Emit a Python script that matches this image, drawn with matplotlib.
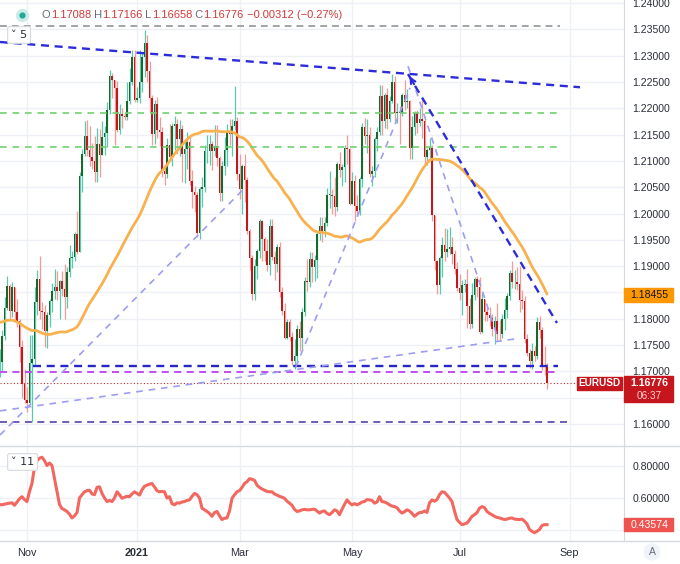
import numpy as np
import pandas as pd
import matplotlib
matplotlib.use("Agg")
import matplotlib.pyplot as plt
from matplotlib.lines import Line2D
from matplotlib.patches import Rectangle
from matplotlib.transforms import blended_transform_factory

plt.rcParams['font.family'] = ['Liberation Sans', 'DejaVu Sans']

# EURUSD daily closes before the visible window (only used for the 50-day SMA)
warmup_close = [1.1867, 1.1876, 1.1787, 1.1737, 1.1738, 1.1785, 1.1812, 1.1842, 1.1870, 1.1931,
                1.1837, 1.1859, 1.1796, 1.1793, 1.1833, 1.1830, 1.1823, 1.1903, 1.1937, 1.1913,
                1.1853, 1.1850, 1.1838, 1.1815, 1.1782, 1.1800, 1.1813, 1.1845, 1.1863, 1.1845,
                1.1815, 1.1848, 1.1837, 1.1773, 1.1705, 1.1656, 1.1670, 1.1632, 1.1665, 1.1745,
                1.1721, 1.1747, 1.1715, 1.1780, 1.1733, 1.1760, 1.1765, 1.1826, 1.1812, 1.1743,
                1.1747, 1.1706]

# visible window: 2020-10-16 .. 2021-08-19 (FX feed prints every weekday)
dates = pd.bdate_range("2020-10-16", "2021-08-19")

closes = [
    # Oct
    1.1718, 1.1768, 1.1820, 1.1863, 1.1815, 1.1860, 1.1812, 1.1795, 1.1746, 1.1676, 1.1646,
    # Nov
    1.1640, 1.1715, 1.1724, 1.1832, 1.1875, 1.1814, 1.1812, 1.1776, 1.1807, 1.1834, 1.1853,
    1.1861, 1.1852, 1.1871, 1.1857, 1.1842, 1.1888, 1.1915, 1.1918, 1.1962, 1.1927,
    # Dec
    1.2072, 1.2114, 1.2147, 1.2121, 1.2107, 1.2100, 1.2078, 1.2133, 1.2112, 1.2146, 1.2153,
    1.2196, 1.2261, 1.2254, 1.2238, 1.2158, 1.2189, 1.2186, 1.2184, 1.2214, 1.2250, 1.2298, 1.2216,
    # Jan
    1.2220, 1.2250, 1.2297, 1.2325, 1.2271, 1.2220, 1.2151, 1.2208, 1.2158, 1.2155, 1.2080,
    1.2076, 1.2131, 1.2108, 1.2166, 1.2171, 1.2142, 1.2161, 1.2114, 1.2122, 1.2136,
    # Feb
    1.2062, 1.2041, 1.2036, 1.1963, 1.2046, 1.2050, 1.2118, 1.2119, 1.2132, 1.2119,
    1.2129, 1.2105, 1.2039, 1.2091, 1.2120, 1.2156, 1.2151, 1.2166, 1.2176, 1.2075,
    # Mar
    1.2046, 1.2090, 1.2063, 1.1966, 1.1916, 1.1848, 1.1901, 1.1928, 1.1986, 1.1952, 1.1929,
    1.1902, 1.1977, 1.1917, 1.1904, 1.1936, 1.1850, 1.1814, 1.1763, 1.1794, 1.1765, 1.1719, 1.1730,
    # Apr
    1.1780, 1.1763, 1.1812, 1.1872, 1.1870, 1.1914, 1.1898, 1.1912, 1.1961, 1.1977, 1.1966,
    1.1982, 1.2036, 1.2036, 1.2034, 1.2012, 1.2094, 1.2083, 1.2088, 1.2125, 1.2122, 1.2019,
    # May
    1.2062, 1.2015, 1.2004, 1.2065, 1.2165, 1.2147, 1.2150, 1.2075, 1.2081, 1.2142, 1.2154,
    1.2224, 1.2176, 1.2226, 1.2180, 1.2214, 1.2250, 1.2191, 1.2193, 1.2191, 1.2226,
    # Jun
    1.2212, 1.2213, 1.2125, 1.2165, 1.2191, 1.2172, 1.2179, 1.2175, 1.2107, 1.2121, 1.2124,
    1.1997, 1.1909, 1.1864, 1.1916, 1.1941, 1.1927, 1.1933, 1.1936, 1.1924, 1.1895, 1.1858,
    # Jul
    1.1849, 1.1865, 1.1866, 1.1824, 1.1791, 1.1845, 1.1876, 1.1861, 1.1775, 1.1837, 1.1812,
    1.1807, 1.1801, 1.1781, 1.1795, 1.1772, 1.1771, 1.1800, 1.1816, 1.1843, 1.1887, 1.1870,
    # Aug
    1.1870, 1.1866, 1.1835, 1.1833, 1.1761, 1.1735, 1.1719, 1.1738, 1.1729, 1.1794, 1.1779,
    1.1711, 1.17088, 1.16776,
]

highs = [
    1.1742, 1.1778, 1.1841, 1.1881, 1.1866, 1.1870, 1.1860, 1.1838, 1.1800, 1.1760, 1.1705,
    1.1670, 1.1770, 1.1770, 1.1861, 1.1892, 1.1920, 1.1831, 1.1826, 1.1812, 1.1838, 1.1868,
    1.1894, 1.1890, 1.1873, 1.1890, 1.1905, 1.1898, 1.1941, 1.1928, 1.1965, 1.2004,
    1.2078, 1.2122, 1.2176, 1.2177, 1.2167, 1.2134, 1.2148, 1.2163, 1.2161, 1.2176, 1.2166,
    1.2212, 1.2273, 1.2268, 1.2250, 1.2252, 1.2208, 1.2201, 1.2191, 1.2250, 1.2276, 1.2310, 1.2310,
    1.2240, 1.2310, 1.2305, 1.2349, 1.2340, 1.2290, 1.2225, 1.2216, 1.2222, 1.2184, 1.2164,
    1.2090, 1.2144, 1.2170, 1.2172, 1.2185, 1.2180, 1.2177, 1.2169, 1.2141, 1.2155,
    1.2150, 1.2083, 1.2052, 1.2040, 1.2050, 1.2070, 1.2130, 1.2149, 1.2149, 1.2137,
    1.2169, 1.2169, 1.2110, 1.2100, 1.2145, 1.2170, 1.2180, 1.2180, 1.2243, 1.2183,
    1.2113, 1.2095, 1.2113, 1.2070, 1.1971, 1.1921, 1.1914, 1.1932, 1.1990, 1.1988, 1.1955,
    1.1951, 1.1990, 1.1989, 1.1929, 1.1942, 1.1945, 1.1860, 1.1830, 1.1800, 1.1799, 1.1774, 1.1761,
    1.1788, 1.1795, 1.1820, 1.1880, 1.1914, 1.1927, 1.1927, 1.1922, 1.1965, 1.1994, 1.1994,
    1.1994, 1.2048, 1.2080, 1.2047, 1.2070, 1.2098, 1.2116, 1.2094, 1.2130, 1.2150, 1.2125,
    1.2078, 1.2074, 1.2035, 1.2070, 1.2172, 1.2181, 1.2180, 1.2165, 1.2090, 1.2145, 1.2164,
    1.2245, 1.2245, 1.2230, 1.2238, 1.2224, 1.2266, 1.2262, 1.2210, 1.2205, 1.2230,
    1.2254, 1.2237, 1.2215, 1.2185, 1.2195, 1.2197, 1.2200, 1.2218, 1.2180, 1.2125, 1.2144,
    1.2130, 1.1997, 1.1911, 1.1920, 1.1955, 1.1973, 1.1970, 1.1975, 1.1955, 1.1930, 1.1907,
    1.1885, 1.1873, 1.1875, 1.1895, 1.1840, 1.1868, 1.1880, 1.1881, 1.1880, 1.1849, 1.1838,
    1.1823, 1.1823, 1.1809, 1.1806, 1.1830, 1.1797, 1.1810, 1.1840, 1.1849, 1.1892, 1.1909,
    1.1893, 1.1899, 1.1900, 1.1855, 1.1843, 1.1771, 1.1742, 1.1753, 1.1748, 1.1803, 1.1806,
    1.1785, 1.1749, 1.17166,
]

lows = [
    1.1690, 1.1700, 1.1760, 1.1817, 1.1800, 1.1803, 1.1800, 1.1784, 1.1717, 1.1650, 1.1640,
    1.1622, 1.1640, 1.1603, 1.1713, 1.1807, 1.1800, 1.1780, 1.1746, 1.1745, 1.1785, 1.1812,
    1.1838, 1.1835, 1.1800, 1.1844, 1.1800, 1.1820, 1.1880, 1.1896, 1.1909, 1.1924,
    1.1928, 1.2040, 1.2110, 1.2110, 1.2090, 1.2085, 1.2060, 1.2060, 1.2070, 1.2124, 1.2111,
    1.2127, 1.2189, 1.2219, 1.2130, 1.2154, 1.2152, 1.2163, 1.2178, 1.2178, 1.2208, 1.2245, 1.2212,
    1.2212, 1.2211, 1.2231, 1.2260, 1.2250, 1.2192, 1.2131, 1.2132, 1.2143, 1.2128, 1.2070,
    1.2054, 1.2068, 1.2100, 1.2090, 1.2121, 1.2113, 1.2110, 1.2059, 1.2058, 1.2085,
    1.2055, 1.2011, 1.2003, 1.1955, 1.1952, 1.2012, 1.2041, 1.2096, 1.2093, 1.2082,
    1.2110, 1.2090, 1.2023, 1.2023, 1.2074, 1.2091, 1.2130, 1.2109, 1.2159, 1.2064,
    1.2027, 1.2000, 1.2022, 1.1962, 1.1893, 1.1836, 1.1835, 1.1876, 1.1915, 1.1910, 1.1910,
    1.1891, 1.1884, 1.1911, 1.1873, 1.1889, 1.1842, 1.1808, 1.1761, 1.1762, 1.1758, 1.1712, 1.1704,
    1.1714, 1.1739, 1.1742, 1.1805, 1.1852, 1.1860, 1.1870, 1.1872, 1.1878, 1.1950, 1.1945,
    1.1955, 1.1976, 1.2010, 1.2000, 1.1996, 1.2005, 1.2070, 1.2053, 1.2060, 1.2095, 1.2016,
    1.2020, 1.1986, 1.1995, 1.1997, 1.2051, 1.2132, 1.2115, 1.2070, 1.2052, 1.2070, 1.2118,
    1.2150, 1.2150, 1.2162, 1.2160, 1.2174, 1.2210, 1.2172, 1.2172, 1.2133, 1.2185,
    1.2196, 1.2200, 1.2103, 1.2104, 1.2150, 1.2153, 1.2167, 1.2144, 1.2093, 1.2092, 1.2102,
    1.1985, 1.1892, 1.1847, 1.1848, 1.1880, 1.1910, 1.1918, 1.1923, 1.1905, 1.1885, 1.1852,
    1.1835, 1.1807, 1.1850, 1.1782, 1.1780, 1.1782, 1.1836, 1.1842, 1.1772, 1.1773, 1.1796,
    1.1795, 1.1787, 1.1767, 1.1752, 1.1760, 1.1757, 1.1763, 1.1778, 1.1802, 1.1836, 1.1858,
    1.1857, 1.1854, 1.1812, 1.1819, 1.1754, 1.1730, 1.1707, 1.1705, 1.1720, 1.1724, 1.1763,
    1.1702, 1.1694, 1.16658,
]

# lower study (length 11)
study = [
    0.560, 0.558, 0.562, 0.565, 0.568, 0.570, 0.555, 0.575, 0.595, 0.608,
    0.590, 0.578, 0.640, 0.690, 0.790, 0.830, 0.845, 0.851, 0.830, 0.800,
    0.815, 0.800, 0.720, 0.640, 0.560, 0.535, 0.527, 0.517, 0.500, 0.477,
    0.490, 0.510, 0.600, 0.620, 0.638, 0.645, 0.648, 0.625, 0.620, 0.665,
    0.669, 0.628, 0.600, 0.578, 0.585, 0.578, 0.600, 0.638, 0.620, 0.598,
    0.605, 0.610, 0.608, 0.625, 0.638, 0.628, 0.618, 0.650, 0.672, 0.679,
    0.685, 0.689, 0.668, 0.645, 0.638, 0.640, 0.638, 0.600, 0.608, 0.565,
    0.558, 0.570, 0.568, 0.575, 0.578, 0.585, 0.588, 0.610, 0.628, 0.620,
    0.600, 0.537, 0.527, 0.517, 0.505, 0.487, 0.510, 0.517, 0.490, 0.467,
    0.475, 0.477, 0.520, 0.598, 0.620, 0.638, 0.645, 0.665, 0.689, 0.700,
    0.719, 0.715, 0.709, 0.679, 0.665, 0.655, 0.648, 0.640, 0.638, 0.638,
    0.625, 0.618, 0.610, 0.605, 0.598, 0.580, 0.568, 0.555, 0.530, 0.517,
    0.520, 0.527, 0.530, 0.527, 0.527, 0.530, 0.531, 0.520, 0.507, 0.517,
    0.520, 0.505, 0.497, 0.510, 0.527, 0.520, 0.497, 0.530, 0.560, 0.588,
    0.570, 0.558, 0.565, 0.558, 0.565, 0.575, 0.578, 0.590, 0.588, 0.585,
    0.568, 0.575, 0.608, 0.578, 0.575, 0.568, 0.558, 0.550, 0.547, 0.540,
    0.520, 0.507, 0.515, 0.527, 0.520, 0.505, 0.487, 0.500, 0.510, 0.511,
    0.520, 0.511, 0.570, 0.588, 0.580, 0.590, 0.620, 0.638, 0.635, 0.618,
    0.600, 0.578, 0.520, 0.467, 0.450, 0.436, 0.440, 0.446, 0.465, 0.487,
    0.497, 0.510, 0.537, 0.547, 0.540, 0.517, 0.505, 0.497, 0.487, 0.480,
    0.477, 0.472, 0.467, 0.470, 0.475, 0.477, 0.470, 0.468, 0.467, 0.470,
    0.457, 0.440, 0.406, 0.395, 0.386, 0.395, 0.406, 0.430, 0.436, 0.43574,
]

# value printed in the SMA tag on the price scale
sma_tag = 1.18455
countdown = "06:37"

# chart drawings: (bar0, price0, bar1, price1, colour, width, dashes)
trend_lines = [
    (0.2, 1.2356, 224.2, 1.2356, '#a3a3a3', 1.4, (3.5, 2.6)),
    (0.2, 1.2326, 232.2, 1.2240, '#2c2cd8', 1.7, (3.4, 2.4)),
    (0.2, 1.2191, 225.0, 1.2191, '#72d072', 1.2, (4.0, 3.5)),
    (0.2, 1.2126, 225.0, 1.2126, '#72d072', 1.2, (4.0, 3.5)),
    (13.2, 1.1710, 223.2, 1.1710, '#2626c8', 1.7, (3.4, 2.4)),
    (0.2, 1.1698, 222.0, 1.1698, '#c04ef0', 1.4, (3.6, 2.8)),
    (0.2, 1.1604, 227.0, 1.1604, '#6f5cb8', 1.4, (3.6, 2.8)),
    (0.2, 1.1579, 98.2, 1.2049, '#9d9df2', 1.2, (4.0, 3.5)),
    (0.2, 1.1625, 208.2, 1.1763, '#9d9df2', 1.2, (4.0, 3.5)),
    (118.5, 1.1708, 164.2, 1.2239, '#9d9df2', 1.2, (4.0, 3.5)),
    (163.4, 1.2280, 199.4, 1.1763, '#9d9df2', 1.2, (4.0, 3.5)),
    (163.4, 1.2265, 223.0, 1.1792, '#2c2cd8', 1.7, (3.4, 2.4)),
]

last_price = closes[-1]
W, H = 680, 564

opens = np.array([warmup_close[-1]] + closes[:-1])
c = np.array(closes)
h = np.maximum(np.array(highs), np.maximum(opens, c))
l = np.minimum(np.array(lows), np.minimum(opens, c))
idx = np.arange(len(dates))
if not (len(c) == len(h) == len(l) == len(study) == len(dates)):
    raise SystemExit("length mismatch")

sma = pd.Series(warmup_close + closes).rolling(50).mean().iloc[len(warmup_close):].to_numpy()

fig = plt.figure(figsize=(W / 100, H / 100), dpi=100)
ax = fig.add_axes([0, 1 - 445 / H, 624 / W, 445 / H])
ax2 = fig.add_axes([0, 1 - 541 / H, 624 / W, 94 / H])

# month ticks: first bar of each labelled month, Sep is past the last bar
month_starts = {}
for i, d in enumerate(dates):
    month_starts.setdefault((d.year, d.month), i)
tick_pos = [month_starts[(2020, 11)], month_starts[(2021, 1)], month_starts[(2021, 3)],
            month_starts[(2021, 5)], month_starts[(2021, 7)],
            len(dates) + len(pd.bdate_range("2021-08-20", "2021-08-31"))]
tick_lab = ['Nov', '2021', 'Mar', 'May', 'Jul', 'Sep']

for a in (ax, ax2):
    a.set_xlim(0.2, 249.8)
    a.set_xticks(tick_pos)
    a.grid(True, color='#eef0f5', lw=1)
    a.set_axisbelow(True)
    for s in ('top', 'left', 'bottom'):
        a.spines[s].set_visible(False)
    a.spines['right'].set_color('#d6d9e0')
    a.yaxis.tick_right()
    a.tick_params(axis='y', length=0, pad=6, labelsize=7.6, labelcolor='#2a2e39')
ax.tick_params(axis='x', length=0, labelbottom=False)
ax2.tick_params(axis='x', length=0, pad=5, labelsize=7.8, labelcolor='#2a2e39')
ax2.set_xticklabels(tick_lab)
ax2.get_xticklabels()[1].set_fontweight('bold')

ax.set_ylim(1.15601, 1.24058)
yt = np.arange(1.160, 1.2401, 0.005)
ax.set_yticks(yt)
# the 1.185 / 1.165 labels sit under the SMA and price tags
ax.set_yticklabels(["" if abs(v - 1.185) < 1e-6 or abs(v - 1.165) < 1e-6 else f"{v:.5f}"
                    for v in yt])

# candles
up = c >= opens
ax.vlines(idx[up], l[up], h[up], color='#5ec8ae', lw=0.9, zorder=3)
ax.vlines(idx[~up], l[~up], h[~up], color='#f39b96', lw=0.9, zorder=3)
body_lo = np.minimum(opens, c)
body_h = np.maximum(np.abs(c - opens), 0.00008)
ax.bar(idx[up], body_h[up], bottom=body_lo[up], width=0.75, color='#17682a', lw=0, zorder=4)
ax.bar(idx[~up], body_h[~up], bottom=body_lo[~up], width=0.75, color='#c4161c', lw=0, zorder=4)

ax.plot(idx, sma, color='#f7b24f', lw=2, zorder=5, solid_capstyle='round')

for b0, p0, b1, p1, col, lw, ds in trend_lines:
    ax.plot([b0, b1], [p0, p1], color=col, lw=lw, dashes=ds, zorder=6)

# arrow head at the start of the falling channel line
b0, p0, b1, p1 = trend_lines[-1][:4]
ax.annotate("", xy=(b0, p0), xytext=(b0 + 3, p0 + (p1 - p0) * 3 / (b1 - b0)),
            arrowprops=dict(arrowstyle='->', color='#2c2cd8', lw=1.5, mutation_scale=9),
            zorder=7)

ax.axhline(last_price, color='#c62828', lw=0.8, ls=(0, (1, 2)), zorder=2)

# right-hand price tags
bt = blended_transform_factory(ax.transAxes, ax.transData)
px = 1 / 5262.0
ax.add_patch(Rectangle((1.0, sma_tag - 7 * px), 49 / 624, 14 * px, transform=bt,
                       color='#ff9800', clip_on=False, zorder=20))
ax.text(1.0 + 25.5 / 624, sma_tag, f"{sma_tag:.5f}", transform=bt, ha='center', va='center',
        fontsize=7.6, color='#131722', zorder=21, clip_on=False)
ax.add_patch(Rectangle((1.0, last_price - 19 * px), 49 / 624, 26 * px, transform=bt,
                       color='#c4161c', clip_on=False, zorder=20))
ax.text(1.0 + 25.5 / 624, last_price, f"{last_price:.5f}", transform=bt, ha='center',
        va='center', fontsize=7.6, color='white', fontweight='bold', zorder=21, clip_on=False)
ax.text(1.0 + 25.5 / 624, last_price - 13 * px, countdown, transform=bt, ha='center',
        va='center', fontsize=7.2, color='#f8d0d0', zorder=21, clip_on=False)
ax.add_patch(Rectangle((577 / 624, last_price - 6.5 * px), 45 / 624, 13 * px, transform=bt,
                       color='#c4161c', clip_on=False, zorder=20))
ax.text(599.5 / 624, last_price, "EURUSD", transform=bt, ha='center', va='center',
        fontsize=7.2, color='white', fontweight='bold', zorder=21)

# lower study
ax2.set_ylim(0.335, 0.914)
ax2.set_yticks([0.4, 0.6, 0.8])
ax2.set_yticklabels(["", "0.60000", "0.80000"])
ax2.plot(idx, study, color='#f2675f', lw=2.2, zorder=5)
bt2 = blended_transform_factory(ax2.transAxes, ax2.transData)
spx = 1 / 162.5
ax2.add_patch(Rectangle((1.0, study[-1] - 6.5 * spx), 49 / 624, 13 * spx, transform=bt2,
                        color='#ef5350', clip_on=False, zorder=20))
ax2.text(1.0 + 25.5 / 624, study[-1], f"{study[-1]:.5f}", transform=bt2, ha='center',
         va='center', fontsize=7.6, color='white', zorder=21, clip_on=False)

# panel separators
for yy in (446, 541):
    fig.add_artist(Line2D([0, 1], [1 - yy / H, 1 - yy / H], color='#d6d9e0', lw=1,
                          transform=fig.transFigure))

# header legend
fig.add_artist(Line2D([22 / W], [1 - 15 / H], marker='o', ms=7, color='#26a69a',
                      mec='#c9ece6', mew=2.5, transform=fig.transFigure))
fig.canvas.draw()
r = fig.canvas.get_renderer()
o_, h_, l_, c_ = opens[-1], h[-1], l[-1], c[-1]
chg = c_ - o_
parts = [("O", '#6a6d78'), (f"{o_:.5f}", '#cf3b3b'), (" H", '#6a6d78'), (f"{h_:.5f}", '#cf3b3b'),
         (" L", '#6a6d78'), (f"{l_:.5f}", '#cf3b3b'), (" C", '#6a6d78'), (f"{c_:.5f}", '#cf3b3b'),
         (f" \u2212{abs(chg):.5f} (\u2212{abs(chg) / o_ * 100:.2f}%)", '#cf3b3b')]
x = 42
for s, col in parts:
    t = fig.text(x / W, 1 - 15 / H, s, color=col, fontsize=8.0, va='center', ha='left')
    x += t.get_window_extent(renderer=r).width

box = dict(boxstyle='round,pad=0.3,rounding_size=0.15', fc='white', ec='#d6d9e0', lw=0.8)
fig.text(11 / W, 1 - 35 / H, "\u02c5 5", fontsize=8, color='#2a2e39', va='center', ha='left',
         family=['DejaVu Sans'], bbox=box)
fig.text(11 / W, 1 - 462 / H, "\u02c5 11", fontsize=8, color='#2a2e39', va='center',
         ha='left', family=['DejaVu Sans'], bbox=box)
fig.text(652 / W, 1 - 552 / H, "A", fontsize=7.5, color='#6a6d78', va='center', ha='center',
         bbox=dict(boxstyle='circle,pad=0.35', fc='#f0f3fa', ec='none'))

fig.savefig("out.png", dpi=100)
